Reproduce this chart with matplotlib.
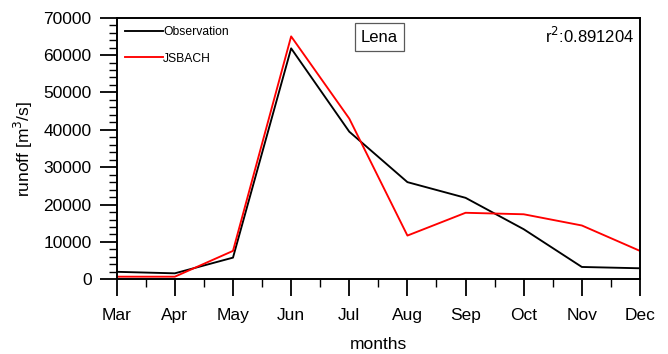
import matplotlib
matplotlib.use("Agg")
import matplotlib.pyplot as plt
from matplotlib.ticker import MultipleLocator

plt.rcParams["font.family"] = ["Liberation Sans", "DejaVu Sans"]

months = ["Mar", "Apr", "May", "Jun", "Jul", "Aug", "Sep", "Oct", "Nov", "Dec"]
observation = [2000, 1600, 5800, 61800, 39500, 26000, 21800, 13400, 3300, 2950]
jsbach = [700, 700, 7600, 65000, 43000, 11700, 17800, 17400, 14400, 7600]
r2 = 0.891204

fig = plt.figure(figsize=(6.68, 3.54), dpi=100)
ax = fig.add_axes([116.7 / 668, 1 - 279.3 / 354, (640 - 116.7) / 668, (279.3 - 17.7) / 354])

x = list(range(len(months)))
ax.plot(x, observation, color="black", lw=1.35, label="Observation")
ax.plot(x, jsbach, color="red", lw=1.35, label="JSBACH")

ax.set_xlim(0, len(months) - 1)
ax.set_ylim(0, 70000)
ax.set_xticks(x)
ax.set_xticklabels(months)
ax.xaxis.set_minor_locator(MultipleLocator(0.5))
ax.yaxis.set_major_locator(MultipleLocator(10000))
ax.yaxis.set_minor_locator(MultipleLocator(2000))

ax.tick_params(axis="both", which="major", direction="out", length=12, width=1.3,
               labelsize=12.5, pad=9)
ax.tick_params(axis="both", which="minor", direction="out", length=6, width=1.0)
ax.tick_params(axis="y", which="major", pad=6)
for s in ax.spines.values():
    s.set_linewidth(1.4)

ax.set_xlabel("months", fontsize=12.5, labelpad=10)
ax.set_ylabel("runoff [m$^3$/s]", fontsize=12.5, labelpad=6)

ax.legend(loc="upper left", frameon=False, fontsize=8.7, handlelength=3.15,
          handletextpad=0.0, labelspacing=1.2, borderaxespad=0.3,
          bbox_to_anchor=(0.0, 1.0))

ax.text(0.502, 0.925, "Lena", transform=ax.transAxes, ha="center", va="center",
        fontsize=12,
        bbox=dict(boxstyle="square,pad=0.38", fc="white", ec="0.35", lw=0.9))
ax.text(0.988, 0.93, f"r$^2$:{r2:.6f}", transform=ax.transAxes, ha="right",
        va="center", fontsize=12)

fig.savefig("out.png", dpi=100)
